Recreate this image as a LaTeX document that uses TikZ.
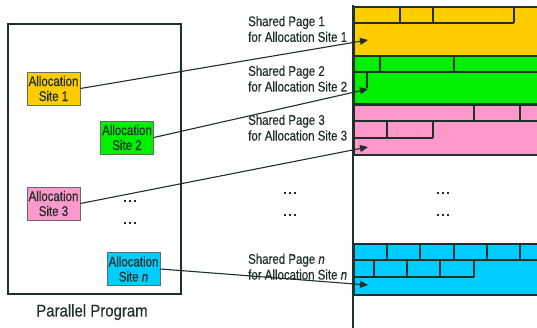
\documentclass[tikz,border=0pt]{standalone}
\usepackage{fontspec}
\setmainfont{Liberation Sans}
\newfontfamily\narrowsf[FakeStretch=0.82,FakeBold=0.5]{Liberation Sans}
\newfontfamily\titlesf[FakeStretch=0.88,FakeBold=0.4]{Liberation Sans}
\newfontfamily\dotsf[FakeBold=1]{Liberation Sans Bold}
\usetikzlibrary{arrows.meta}

\definecolor{ink}{RGB}{30,48,42}
\definecolor{pgyellow}{RGB}{255,204,0}
\definecolor{pggreen}{RGB}{0,240,0}
\definecolor{pgpink}{RGB}{255,153,204}
\definecolor{pgcyan}{RGB}{0,204,255}

\newcommand{\threedots}{.\hspace{1.6pt}.\hspace{1.6pt}.}

\tikzset{
  lbl/.style={font=\narrowsf\fontsize{14}{15.7}\selectfont, text=ink, inner sep=0pt},
  site/.style={draw=ink!70, line width=0.8pt, minimum width=53pt, minimum height=33pt,
    inner sep=0pt, align=center, text=ink,
    font=\narrowsf\fontsize{14}{15}\selectfont},
  pageframe/.style={draw=ink, line width=1.8pt},
  brick/.style={draw=ink, line width=1.1pt},
  link/.style={draw=ink, line width=1.1pt, -{Triangle[length=8pt,width=7pt]}},
  dotsl/.style={font=\dotsf\fontsize{12}{12}\selectfont, text=ink, inner sep=0pt},
}

\begin{document}
\begin{tikzpicture}[x=1pt, y=-1pt]
\useasboundingbox (0,0) rectangle (537,328);
\clip (0,0) rectangle (537,328);

% program frame
\node[draw=ink, line width=1.8pt, minimum width=173pt, minimum height=270pt,
      inner sep=0pt, anchor=north west] (prog) at (7,23) {};
\node[font=\titlesf\fontsize{17}{17}\selectfont, text=ink, inner sep=0pt,
      anchor=base] (progname) at (92,316.5) {Parallel Program};

% allocation sites
\node[site, fill=pgyellow] (s1) at (53.5,88.5) {Allocation\\Site 1};
\node[site, fill=pggreen]  (s2) at (127,137.5) {Allocation\\Site 2};
\node[site, fill=pgpink]   (s3) at (53.5,203.5) {Allocation\\Site 3};
\node[site, fill=pgcyan]   (sn) at (133.5,269) {Allocation\\Site \textit{n}};
\node[dotsl] (d1) at (130,201) {\threedots};
\node[dotsl] (d2) at (130,223) {\threedots};

% shared pages
\node[pageframe, fill=pgyellow, minimum width=200pt, minimum height=49pt, inner sep=0pt, anchor=north west] (p1) at (353,6) {};
\node[pageframe, fill=pggreen,  minimum width=200pt, minimum height=48pt, inner sep=0pt, anchor=north west] (p2) at (353,55) {};
\node[pageframe, fill=pgpink,   minimum width=200pt, minimum height=50pt, inner sep=0pt, anchor=north west] (p3) at (353,104) {};
\node[pageframe, fill=pgcyan,   minimum width=200pt, minimum height=51pt, inner sep=0pt, anchor=north west] (pn) at (353,243) {};

% bricks inside page 1
\draw[brick] (353,23) -- (514,23);
\foreach \x in {400,433,514} \draw[brick] (\x,6) -- (\x,23);
% bricks inside page 2
\draw[brick] (353,72) -- (545,72);
\foreach \x in {380,454} \draw[brick] (\x,55) -- (\x,72);
\draw[brick] (367,72) -- (367,88);
% bricks inside page 3
\draw[brick] (353,121) -- (545,121);
\foreach \x in {474,520} \draw[brick] (\x,104) -- (\x,121);
\draw[brick] (353,138) -- (433,138);
\foreach \x in {387,433} \draw[brick] (\x,121) -- (\x,138);
% bricks inside page n
\draw[brick] (353,260) -- (545,260);
\foreach \x in {387,420,454,487,520} \draw[brick] (\x,243) -- (\x,260);
\draw[brick] (353,277) -- (474,277);
\foreach \x in {374,407,440,474} \draw[brick] (\x,260) -- (\x,277);

% memory boundary
\coordinate (mtop) at (353,5);
\coordinate (mbot) at (353,328);
\draw[ink, line width=1.8pt] (mtop) -- (mbot);

% page labels
\node[lbl, align=left, anchor=north west] (l1) at (248,15.8) {Shared Page 1\\for Allocation Site 1};
\node[lbl, align=left, anchor=north west] (l2) at (248,65.5) {Shared Page 2\\for Allocation Site 2};
\node[lbl, align=left, anchor=north west] (l3) at (248,114.5) {Shared Page 3\\for Allocation Site 3};
\node[lbl, align=left, anchor=north west] (ln) at (248,253.5) {Shared Page \textit{n}\\for Allocation Site \textit{n}};

\node[dotsl] (d3) at (290,193) {\threedots};
\node[dotsl] (d4) at (290,215) {\threedots};
\node[dotsl] (d5) at (443,193) {\threedots};
\node[dotsl] (d6) at (443,215) {\threedots};

% arrow targets inside pages
\coordinate (t1) at (368,40);
\coordinate (t2) at (368,89);
\coordinate (t3) at (368,147);
\coordinate (tn) at (368,285);

\draw[link] (s1.east) -- (t1);
\draw[link] (s2.east) -- (t2);
\draw[link] (s3.east) -- (t3);
\draw[link] (sn.east) -- (tn);
\end{tikzpicture}
\end{document}
